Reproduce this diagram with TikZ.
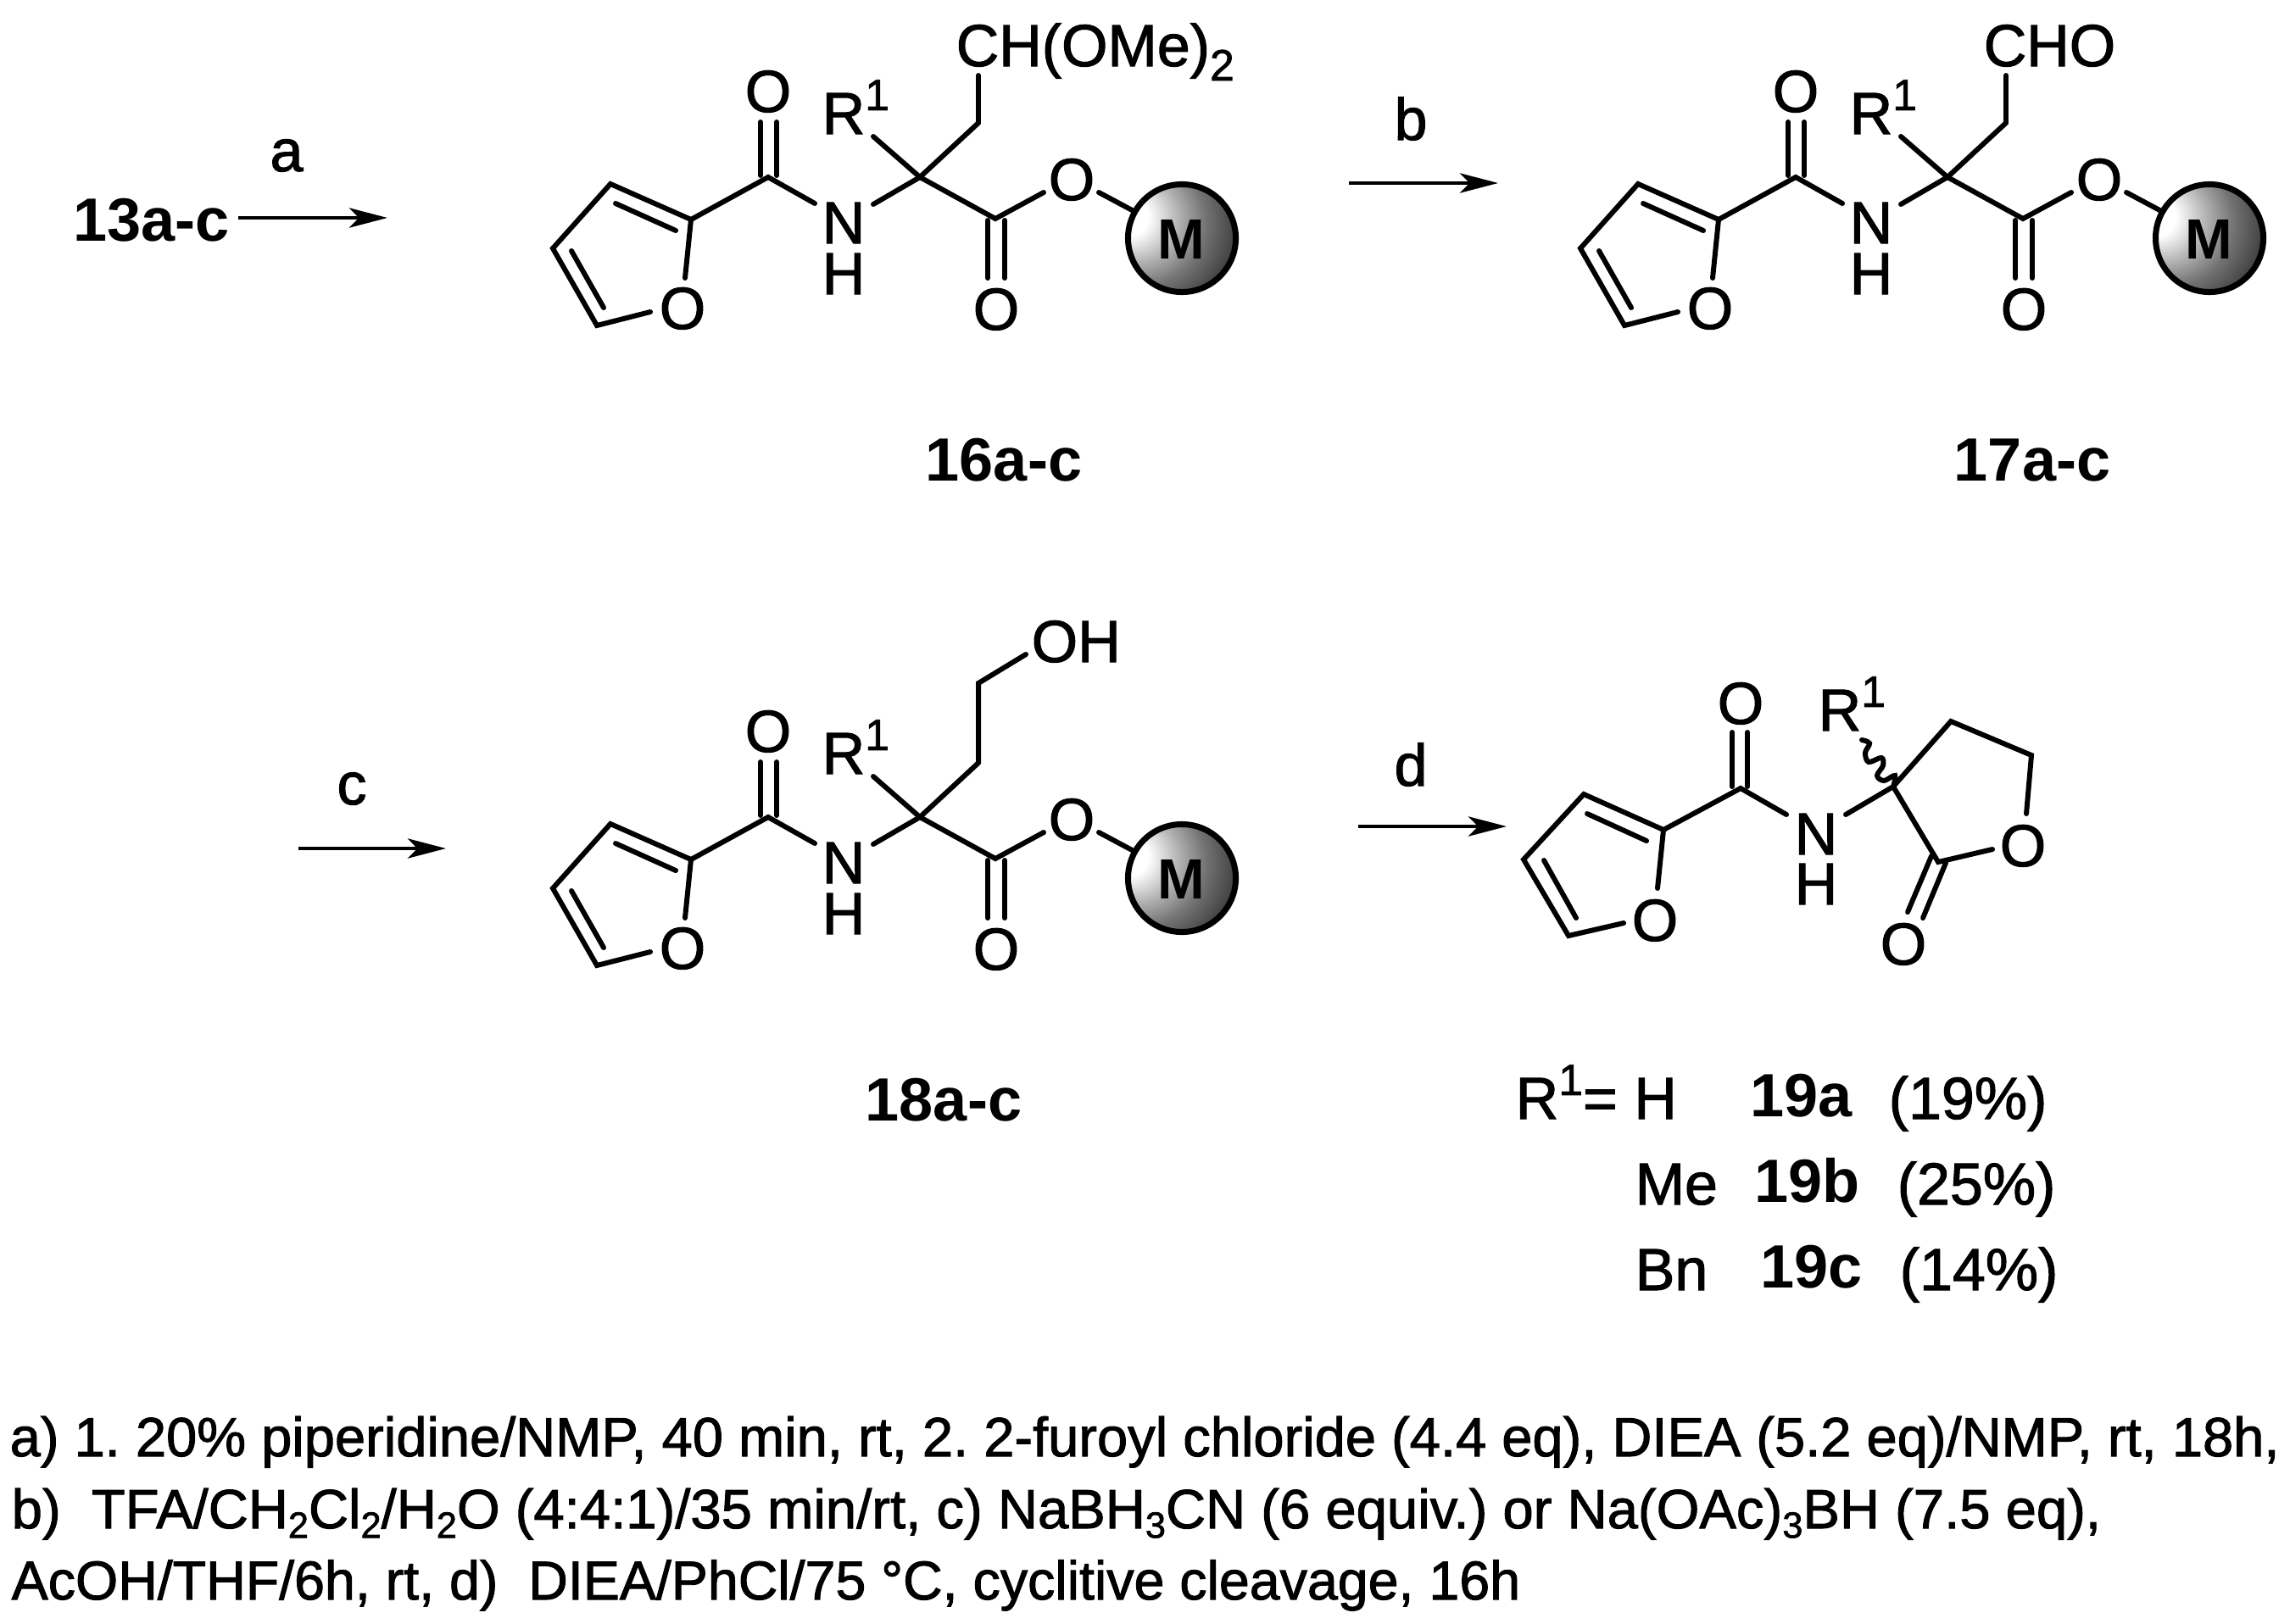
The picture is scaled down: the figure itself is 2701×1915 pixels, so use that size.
\documentclass[tikz,border=0pt]{standalone}
\usepackage{fontspec}
\setmainfont{Liberation Sans}[UprightFeatures={FakeBold=1.5}]
\usetikzlibrary{arrows.meta}
\pgfdeclareradialshading{mball}{\pgfpoint{-27bp}{11bp}}{%
  color(0bp)=(white); color(9bp)=(white); color(20bp)=(black!30);
  color(30bp)=(black!55); color(42bp)=(black!76); color(54bp)=(black!90); color(66bp)=(black); color(100bp)=(black)}
\newcommand\chemfont{\fontsize{19.9}{24}\selectfont}
\newcommand\boldchem{\fontsize{20.5}{24}\selectfont\bfseries}
\newcommand\notefont{\fontsize{18.45}{22}\selectfont\frenchspacing}
\newcommand\chemsub[1]{\raisebox{-4.8pt}{\fontsize{14.7}{16}\selectfont #1}}
\newcommand\notesub[1]{\raisebox{-3.2pt}{\fontsize{12.3}{14}\selectfont #1}}
\newcommand\rone{R\raisebox{8pt}{\fontsize{14.7}{16}\selectfont 1}}
\tikzset{
  bond/.style={line width=1.7pt,line cap=round,line join=miter},
  atom/.style={font=\chemfont,inner sep=0pt,anchor=base},
  atoml/.style={font=\chemfont,inner sep=0pt,anchor=base west},
  cpd/.style={font=\boldchem,inner sep=0pt,anchor=base},
  cpdl/.style={font=\boldchem,inner sep=0pt,anchor=base west},
  note/.style={font=\notefont,inner sep=0pt,anchor=base west},
  rxn/.style={line width=1.4pt,-{Stealth[length=12.8pt,width=6.6pt,inset=3.2pt]}},
  bead/.style={draw=black,line width=2pt,circle,minimum size=1.27cm,inner sep=0pt,shading=mball},
  beadtext/.style={font=\fontsize{19}{22}\selectfont\bfseries,inner sep=0pt,anchor=base}
}
% #1 = name prefix: the resin-bound furoyl amide, without its side chain
\newcommand\resinamide[1]{%
  \coordinate (#1c2) at (815,259);
  \coordinate (#1c3) at (720,217);
  \coordinate (#1c4) at (652,293);
  \coordinate (#1c5) at (704,384);
  \coordinate (#1i1) at (726,240);
  \coordinate (#1i2) at (797,272);
  \coordinate (#1i3) at (674,296);
  \coordinate (#1i4) at (712,363);
  \coordinate (#1eo1) at (808,328);
  \coordinate (#1eo2) at (767,368);
  \coordinate (#1cc) at (906,209);
  \coordinate (#1d1a) at (897,207);
  \coordinate (#1d1b) at (897,144);
  \coordinate (#1d2a) at (916,207);
  \coordinate (#1d2b) at (916,144);
  \coordinate (#1en1) at (961,240);
  \coordinate (#1en2) at (1030,241);
  \coordinate (#1q) at (1085,209);
  \coordinate (#1er) at (1030,161);
  \coordinate (#1ch) at (1154,145);
  \coordinate (#1ec) at (1174,258);
  \coordinate (#1d3a) at (1165,260);
  \coordinate (#1d3b) at (1165,328);
  \coordinate (#1d4a) at (1185,260);
  \coordinate (#1d4b) at (1185,328);
  \coordinate (#1eo3) at (1231,227);
  \coordinate (#1eo4) at (1296,227);
  \coordinate (#1eo5) at (1339,250);
  \node[atom] (#1ro) at (805,388) {O};
  \node[atom] (#1ko) at (906,132) {O};
  \node[atom] (#1n) at (995,287) {N};
  \node[atom] (#1h) at (995,347) {H};
  \node[atoml] (#1r) at (969,158) {\rone};
  \node[atom] (#1so) at (1264,236) {O};
  \node[atom] (#1co) at (1175,389) {O};
  \draw[bond] (#1eo1) -- (#1c2) -- (#1c3) -- (#1c4) -- (#1c5) -- (#1eo2);
  \draw[bond] (#1i1) -- (#1i2);
  \draw[bond] (#1i3) -- (#1i4);
  \draw[bond] (#1c2) -- (#1cc) -- (#1en1);
  \draw[bond] (#1d1a) -- (#1d1b);
  \draw[bond] (#1d2a) -- (#1d2b);
  \draw[bond] (#1en2) -- (#1q) -- (#1ec) -- (#1eo3);
  \draw[bond] (#1er) -- (#1q) -- (#1ch);
  \draw[bond] (#1d3a) -- (#1d3b);
  \draw[bond] (#1d4a) -- (#1d4b);
  \draw[bond] (#1eo4) -- (#1eo5);
  \node[bead] (#1m) at (1394,281) {};
  \node[beadtext] (#1mt) at (1393,305) {M};
}
\begin{document}
\begin{tikzpicture}[x=0.01cm,y=-0.01cm]
\path[use as bounding box,fill=white] (0,0) rectangle (2701,1915);

% 16
\begin{scope}
  \resinamide{p}
  \coordinate (pt) at (1154,89);
  \draw[bond] (pch) -- (pt);
  \node[atoml] (ptx) at (1127,78) {CH(OMe)\chemsub{2}};
\end{scope}
% 17
\begin{scope}[shift={(1212,0)}]
  \resinamide{q}
  \coordinate (qt) at (1154,89);
  \draw[bond] (qch) -- (qt);
  \node[atoml] (qtx) at (1127,78) {CHO};
\end{scope}
% 18
\begin{scope}[shift={(0,755)}]
  \resinamide{s}
  \coordinate (su) at (1154,51);
  \coordinate (st) at (1210,17);
  \draw[bond] (sch) -- (su) -- (st);
  \node[atoml] (stx) at (1216,26) {OH};
\end{scope}

% 19
\coordinate (c2) at (1962,979);
\coordinate (c3) at (1868,937);
\coordinate (c4) at (1797,1014);
\coordinate (c5) at (1850,1104);
\coordinate (i1) at (1872,960);
\coordinate (i2) at (1942,992);
\coordinate (i3) at (1821,1015);
\coordinate (i4) at (1859,1083);
\coordinate (eo1) at (1955,1048);
\coordinate (eo2) at (1915,1089);
\coordinate (cc) at (2053,930);
\coordinate (da) at (2043,928);
\coordinate (db) at (2043,864);
\coordinate (dc) at (2061,928);
\coordinate (dd) at (2061,864);
\coordinate (en1) at (2107,961);
\coordinate (en2) at (2177,961);
\coordinate (q) at (2233,928);
\coordinate (l1) at (2301,851);
\coordinate (l2) at (2396,891);
\coordinate (l3) at (2390,960);
\coordinate (l4) at (2350,1002);
\coordinate (l5) at (2286,1017);
\coordinate (de) at (2278,1010);
\coordinate (df) at (2250,1076);
\coordinate (dg) at (2295,1018);
\coordinate (dh) at (2268,1083);
\node[atom] (ro) at (1952,1110) {O};
\node[atom] (ko) at (2053,854) {O};
\node[atom] (n) at (2142,1008) {N};
\node[atom] (h) at (2142,1067) {H};
\node[atoml] (r) at (2144,862) {\rone};
\node[atom] (lo) at (2386,1022) {O};
\node[atom] (xo) at (2245,1138) {O};
\draw[bond] (eo1) -- (c2) -- (c3) -- (c4) -- (c5) -- (eo2);
\draw[bond] (i1) -- (i2);
\draw[bond] (i3) -- (i4);
\draw[bond] (c2) -- (cc) -- (en1);
\draw[bond] (da) -- (db);
\draw[bond] (dc) -- (dd);
\draw[bond] (en2) -- (q) -- (l1) -- (l2) -- (l3);
\draw[bond] (l4) -- (l5) -- (q);
\draw[bond] (de) -- (df);
\draw[bond] (dg) -- (dh);
\draw[bond,line cap=round] plot[smooth,tension=.6] coordinates {(2196,873) (2205,877) (2200,888) (2204,899) (2219,894) (2221,903) (2214,915) (2222,921) (2235,915) (2233,928)};

% start material and arrows
\node[cpdl] (sm) at (86,284) {13a-c};
\coordinate (a1) at (281,257); \coordinate (a2) at (457,257);
\coordinate (b1) at (1591,216); \coordinate (b2) at (1767,216);
\coordinate (c1) at (352,1001); \coordinate (c2b) at (526,1001);
\coordinate (d1) at (1602,975); \coordinate (d2) at (1777,975);
\draw[rxn] (a1) -- (a2);
\draw[rxn] (b1) -- (b2);
\draw[rxn] (c1) -- (c2b);
\draw[rxn] (d1) -- (d2);
\node[atom] (la) at (338,202) {a};
\node[atom] (lb) at (1664,165) {b};
\node[atom] (lc) at (415,949) {c};
\node[atom] (ld) at (1664,927) {d};

% compound labels
\node[cpd] (n16) at (1184,567) {16a-c};
\node[cpd] (n17) at (2397,567) {17a-c};
\node[cpd] (n18) at (1113,1322) {18a-c};

% R1 table
\node[atoml] (t1) at (1787,1320) {\rone= H};
\node[cpdl] (t2) at (2064,1317) {19a};
\node[atoml] (t3) at (2227,1320) {(19\%)};
\node[atoml] (t4) at (1928,1421) {Me};
\node[cpdl] (t5) at (2069,1418) {19b};
\node[atoml] (t6) at (2237,1421) {(25\%)};
\node[atoml] (t7) at (1928,1522) {Bn};
\node[cpdl] (t8) at (2076,1519) {19c};
\node[atoml] (t9) at (2240,1522) {(14\%)};

% conditions
\node[note] (l1n) at (11,1718) {\fontsize{18.5}{22}\selectfont a) 1. 20\% piperidine/NMP, 40 min, rt, 2. 2-furoyl chloride (4.4 eq), DIEA (5.2 eq)/NMP, rt, 18h,};
\node[note] (l2n) at (13,1803) {\fontsize{18.55}{22}\selectfont b)~~TFA/CH\notesub{2}Cl\notesub{2}/H\notesub{2}O (4:4:1)/35 min/rt, c) NaBH\notesub{3}CN (6 equiv.) or Na(OAc)\notesub{3}BH (7.5 eq),};
\node[note] (l3n) at (13,1887) {\fontsize{18.35}{22}\selectfont AcOH/THF/6h, rt, d)~~DIEA/PhCl/75 °C, cyclitive cleavage, 16h};
\end{tikzpicture}
\end{document}
